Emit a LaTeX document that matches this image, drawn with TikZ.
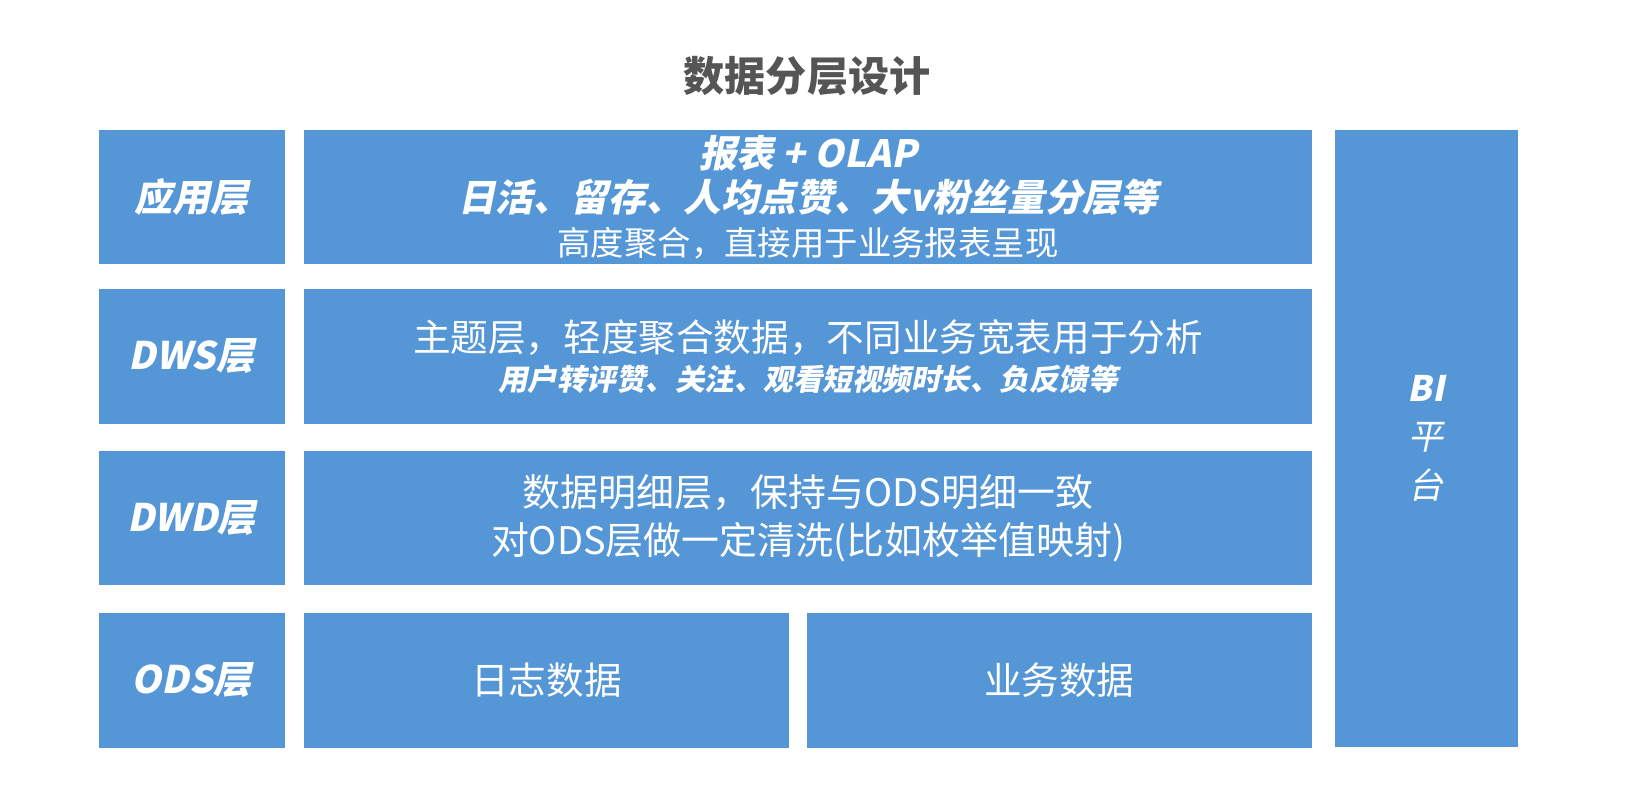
\documentclass[tikz,border=0pt]{standalone}
\usepackage{fontspec}
\setmainfont{Noto Sans CJK SC}
\newfontfamily\cjkslant[FakeSlant=0.2]{Noto Sans CJK SC}
\usepackage{xcolor}
\usetikzlibrary{positioning}

\definecolor{layerblue}{RGB}{85,150,214}
\definecolor{titlegray}{RGB}{85,85,85}

\begin{document}
\begin{tikzpicture}[
  % Block styles
  layer/.style={
    fill=layerblue, inner sep=0pt, outer sep=0pt, text=white, align=center,
    minimum width=1.86cm, minimum height=1.345cm,
    font=\cjkslant\bfseries\fontsize{10.8pt}{13pt}\selectfont
  },
  content/.style={
    fill=layerblue, inner sep=0pt, outer sep=0pt, text=white, align=center,
    minimum width=10.08cm, minimum height=1.345cm,
    font=\fontsize{10.7pt}{12.5pt}\selectfont
  },
  title/.style={font=\bfseries\fontsize{11.7pt}{14pt}\selectfont, text=titlegray}
]
\useasboundingbox (0,0) rectangle (16.46,7.86);

% ── Title ────────────────────────────────────────────────────────────────────
\node[title] (ttl) at (8.07,7.10) {数据分层设计};

% ── Layer labels ─────────────────────────────────────────────────────────────
\node[layer] (appL) at (1.915,5.89) {应用层};
\node[layer, below=0.25cm of appL] (dwsL) {DWS层};
\node[layer, below=0.27cm of dwsL] (dwdL) {DWD层};
\node[layer, below=0.28cm of dwdL] (odsL) {ODS层};

% ── Layer contents ───────────────────────────────────────────────────────────
\node[content, right=0.195cm of appL] (appM)
  {{\cjkslant\bfseries 报表 + OLAP}\\
   {\cjkslant\bfseries 日活、留存、人均点赞、大v粉丝量分层等}\\
   {\fontsize{9.5pt}{12.5pt}\selectfont 高度聚合，直接用于业务报表呈现}};
\node[content, right=0.195cm of dwsL,
      font=\fontsize{10.7pt}{11.1pt}\selectfont] (dwsM)
  {主题层，轻度聚合数据，不同业务宽表用于分析\\
   {\cjkslant\bfseries\fontsize{8.4pt}{11.1pt}\selectfont 用户转评赞、关注、观看短视频时长、负反馈等}};
\node[content, right=0.195cm of dwdL,
      font=\fontsize{10.8pt}{13.7pt}\selectfont] (dwdM)
  {数据明细层，保持与ODS明细一致\\
   对ODS层做一定清洗(比如枚举值映射)};

% ODS split into two sources
\node[content, right=0.195cm of odsL, minimum width=4.85cm] (logD) {日志数据};
\node[content, right=0.175cm of logD, minimum width=5.055cm] (bizD) {业务数据};

% ── BI platform column ───────────────────────────────────────────────────────
\node[layer, anchor=north west, minimum width=1.83cm, minimum height=6.17cm,
      font=\fontsize{10pt}{13.7pt}\selectfont]
  (bi) at ([xshift=0.225cm]appM.north east)
  {{\cjkslant\bfseries BI}\\{\cjkslant 平}\\{\cjkslant 台}};

\end{tikzpicture}
\end{document}
